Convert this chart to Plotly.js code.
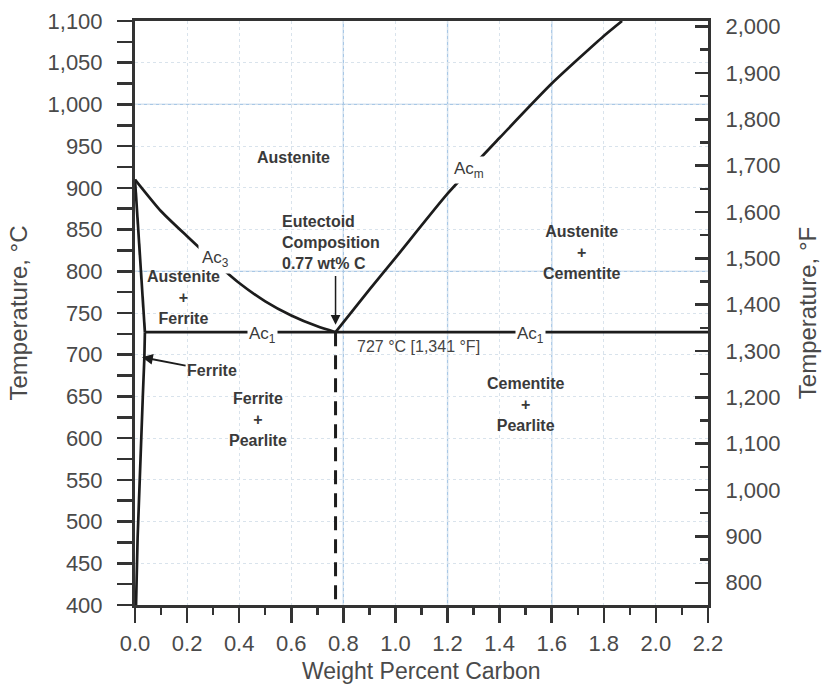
<!DOCTYPE html>
<html>
<head>
<meta charset="utf-8">
<script src="https://cdn.plot.ly/plotly-3.0.1.min.js"></script>
<style>html,body{margin:0;padding:0;background:#fff;}#chart{width:822px;height:688px;}</style>
</head>
<body>
<div id="chart"></div>
<script>
// ---- data (wt% C, temperature °C) ----
const ac3X = [0, 0.1, 0.2, 0.3, 0.4, 0.5, 0.6, 0.7, 0.77];
const ac3T = [910, 872, 842, 813, 786, 764, 747, 734, 727];
const acmX = [0.77, 0.9, 1.0, 1.2, 1.4, 1.6, 1.8, 1.87];
const acmT = [727, 778, 816, 893, 960, 1025, 1082, 1100];
const alphaX = [0, 0.038];
const alphaT = [910, 727];
const solvusX = [0.038, 0.036, 0.03, 0.02, 0.01, 0.004];
const solvusT = [727, 697, 650, 560, 480, 400];
const ac1X = [0.038, 2.2];
const ac1T = [727, 727];
const eutectoidX = [0.77, 0.77];
const eutectoidT = [727, 400];
const eutectoidC = 0.77;
const eutectoidTemp = 727;
const blueGridX = [0.8, 1.2, 1.6];
const blueGridT = [800, 1000];
const xRange = [0, 2.2];
const tRange = [400, 1100];
const fRange = tRange.map(c => c * 1.8 + 32);

const lineC = '#1c1c1c';
const txtC = '#3a3a3a';
const FONT = 'Liberation Sans, Arial, sans-serif';

const traces = [
  {x: ac3X, y: ac3T, mode: 'lines', line: {color: lineC, width: 2.7, shape: 'spline', smoothing: 0.6}},
  {x: acmX, y: acmT, mode: 'lines', line: {color: lineC, width: 2.7, shape: 'spline', smoothing: 0.6}},
  {x: alphaX, y: alphaT, mode: 'lines', line: {color: lineC, width: 2.7}},
  {x: solvusX, y: solvusT, mode: 'lines', line: {color: lineC, width: 2.7}},
  {x: ac1X, y: ac1T, mode: 'lines', line: {color: lineC, width: 2.7}},
  {x: eutectoidX, y: eutectoidT, mode: 'lines', line: {color: lineC, width: 3, dash: '14px,9px'}}
].map(t => Object.assign({type: 'scatter', showlegend: false, hoverinfo: 'skip', cliponaxis: false}, t));

const shapes = [];
blueGridX.forEach(v => shapes.push({type: 'line', xref: 'x', yref: 'paper', x0: v, x1: v, y0: 0, y1: 1, layer: 'below', line: {color: '#a9c8e6', width: 1.3}}));
blueGridT.forEach(v => shapes.push({type: 'line', xref: 'paper', yref: 'y', x0: 0, x1: 1, y0: v, y1: v, layer: 'below', line: {color: '#a9c8e6', width: 1.3}}));

function lab(x, y, text, opts) {
  return Object.assign({x: x, y: y, xref: 'x', yref: 'y', text: text, showarrow: false,
    font: {family: FONT, size: 16, color: txtC}}, opts || {});
}
const B = s => '<b>' + s + '</b>';
const acFont = {family: FONT, size: 17, color: txtC};
const titleFont = {family: FONT, size: 24, color: '#4a4a4a'};

const annotations = [
  lab(0.608, 936, B('Austenite')),
  lab(1.282, 921, 'Ac<sub>m</sub>', {font: acFont, bgcolor: '#ffffff', borderpad: 2}),
  lab(0.558, 834, B('Eutectoid<br>Composition<br>0.77 wt% C'), {xanchor: 'left', align: 'left'}),
  lab(1.715, 823, B('Austenite<br>+<br>Cementite')),
  lab(0.31, 815, 'Ac<sub>3</sub>', {font: acFont, bgcolor: '#ffffff', borderpad: 3}),
  lab(0.185, 768, B('Austenite<br>+<br>Ferrite')),
  lab(0.49, 727, 'Ac<sub>1</sub>', {font: acFont, bgcolor: '#ffffff', borderpad: 1, yshift: -3}),
  lab(1.52, 727, 'Ac<sub>1</sub>', {font: acFont, bgcolor: '#ffffff', borderpad: 1, yshift: -3}),
  lab(1.09, 710, '727 °C [1,341 °F]', {font: {family: FONT, size: 16, color: '#444'}}),
  {x: 0.027, y: 697, ax: 0.296, ay: 681, xref: 'x', yref: 'y', axref: 'x', ayref: 'y',
   text: B('Ferrite'), showarrow: true, arrowhead: 2, arrowsize: 1.2, arrowwidth: 1.8, arrowcolor: lineC,
   font: {family: FONT, size: 16, color: txtC}},
  lab(0.473, 622, B('Ferrite<br>+<br>Pearlite')),
  lab(1.5, 640, B('Cementite<br>+<br>Pearlite')),
  {x: eutectoidC, y: eutectoidTemp + 9, ax: eutectoidC, ay: 796, xref: 'x', yref: 'y', axref: 'x', ayref: 'y',
   text: '', showarrow: true, arrowhead: 2, arrowsize: 1.3, arrowwidth: 1.5, arrowcolor: lineC, standoff: 0},
  {x: 0.5, y: 0, xref: 'paper', yref: 'paper', yshift: -66, xanchor: 'center', yanchor: 'middle',
   text: 'Weight Percent Carbon', showarrow: false, font: {family: FONT, size: 23, color: '#4a4a4a'}, borderpad: 0}
];

const tickFont = {family: FONT, size: 22, color: '#4a4a4a'};

const layout = {
  width: 822, height: 688,
  margin: {l: 135, r: 114, t: 21, b: 83},
  paper_bgcolor: '#ffffff', plot_bgcolor: '#ffffff',
  showlegend: false,
  xaxis: {
    range: xRange, dtick: 0.2, tick0: 0, tickformat: '.1f',
    ticks: 'outside', ticklen: 15, tickwidth: 2.5, tickcolor: '#333',
    minor: {ticks: 'outside', dtick: 0.1, ticklen: 7, tickwidth: 2.5, tickcolor: '#333', showgrid: false},
    showline: true, linewidth: 3, linecolor: '#333', mirror: true,
    showgrid: true, gridcolor: '#d9e3ec', griddash: 'dot', gridwidth: 1,
    zeroline: false, tickfont: tickFont, ticklabelstandoff: 2,
    fixedrange: true, automargin: false
  },
  yaxis: {
    range: tRange, dtick: 50, tick0: 0, tickformat: ',d',
    ticks: 'outside', ticklen: 15, tickwidth: 2.5, tickcolor: '#333',
    minor: {ticks: 'outside', dtick: 25, ticklen: 15, tickwidth: 2.5, tickcolor: '#333', showgrid: false},
    showline: true, linewidth: 3, linecolor: '#333', mirror: false,
    showgrid: true, gridcolor: '#d9e3ec', griddash: 'dot', gridwidth: 1,
    zeroline: false, tickfont: tickFont, ticklabelstandoff: 10,
    title: {text: 'Temperature, °C', font: titleFont, standoff: 14},
    fixedrange: true, automargin: false
  },
  yaxis2: {
    overlaying: 'y', side: 'right', anchor: 'x',
    range: fRange, dtick: 100, tick0: 0, tickformat: ',d',
    ticks: 'inside', ticklen: 13, tickwidth: 2.5, tickcolor: '#333',
    minor: {ticks: 'inside', dtick: 50, ticklen: 8, tickwidth: 2.5, tickcolor: '#333', showgrid: false},
    showline: true, linewidth: 3, linecolor: '#333',
    showgrid: false, zeroline: false, tickfont: tickFont, ticklabelstandoff: 10,
    title: {text: 'Temperature, °F', font: titleFont, standoff: 20},
    fixedrange: true, automargin: false
  },
  shapes: shapes,
  annotations: annotations
};

traces.push({type: 'scatter', x: [xRange[0]], y: [fRange[0]], yaxis: 'y2', mode: 'markers',
  marker: {opacity: 0, size: 1}, showlegend: false, hoverinfo: 'skip'});

Plotly.newPlot('chart', traces, layout, {displayModeBar: false, staticPlot: true});
</script>
</body>
</html>
